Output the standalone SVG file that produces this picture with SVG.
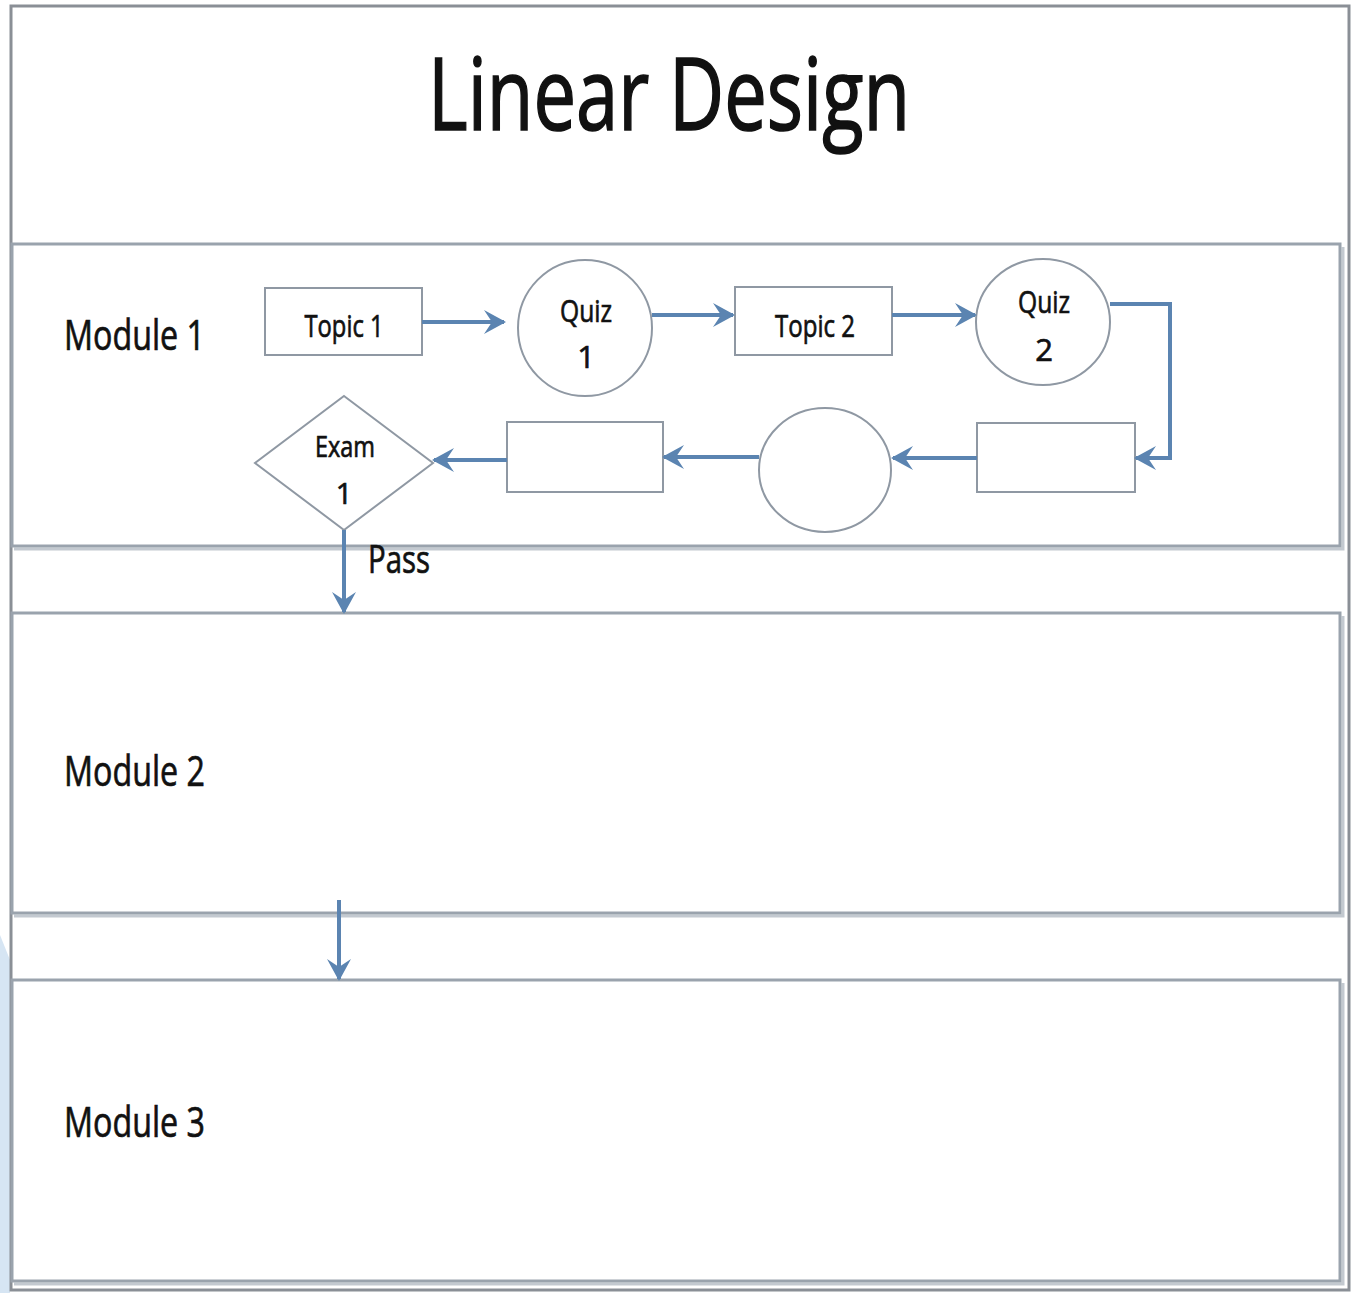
<svg xmlns="http://www.w3.org/2000/svg" width="1357" height="1293" viewBox="0 0 1357 1293">
<defs>
<marker id="ah" viewBox="0 0 12 12" refX="10" refY="6" markerWidth="6" markerHeight="6" markerUnits="strokeWidth" orient="auto">
<path d="M0,0 L11,6 L0,12 L4,6 z" fill="#5b84b1"/>
</marker>
<style>
.lane{fill:#ffffff;stroke:#9aa3ad;stroke-width:3}
.shadow{fill:none;stroke:#c3c9d0;stroke-width:3}
.node{fill:#ffffff;stroke:#8f98a3;stroke-width:2}
.conn{fill:none;stroke:#5b84b1;stroke-width:4;marker-end:url(#ah)}
.t{font-family:"Open Sans","Liberation Sans",Arial,sans-serif;fill:#111111;stroke:#111111;stroke-width:0.7}
.title{stroke-width:1.6}
</style>
</defs>
<rect width="1357" height="1293" fill="#ffffff"/>
<polygon points="0,935 10,960 10,1293 0,1293" fill="#d6e5f3"/>
<rect x="11" y="6" width="1338" height="1284" fill="#ffffff" stroke="#8a8f96" stroke-width="3"/>
<text class="t title" x="669" y="130" font-size="100" text-anchor="middle" textLength="482" lengthAdjust="spacingAndGlyphs">Linear Design</text>
<g id="lane1">
<polyline class="shadow" points="14,549 1343,549 1343,247"/>
<rect class="lane" x="12" y="244" width="1328" height="302"/>
<text class="t" x="64" y="350" font-size="42" textLength="141" lengthAdjust="spacingAndGlyphs">Module 1</text>
</g>
<g id="lane2">
<polyline class="shadow" points="14,916 1343,916 1343,616"/>
<rect class="lane" x="12" y="613" width="1328" height="300"/>
<text class="t" x="64" y="786" font-size="42" textLength="141" lengthAdjust="spacingAndGlyphs">Module 2</text>
</g>
<g id="lane3">
<polyline class="shadow" points="14,1284 1343,1284 1343,983"/>
<rect class="lane" x="12" y="980" width="1328" height="301"/>
<text class="t" x="64" y="1137" font-size="42" textLength="141" lengthAdjust="spacingAndGlyphs">Module 3</text>
</g>
<g id="topic1">
<rect class="node" x="265" y="288" width="157" height="67"/>
<text class="t" x="344" y="337" font-size="31" text-anchor="middle" textLength="79" lengthAdjust="spacingAndGlyphs">Topic 1</text>
</g>
<g id="quiz1">
<ellipse class="node" cx="585" cy="328" rx="67" ry="68"/>
<text class="t" x="586" y="322" font-size="31" text-anchor="middle" textLength="52" lengthAdjust="spacingAndGlyphs">Quiz</text>
<text class="t" x="586" y="368" font-size="31" text-anchor="middle">1</text>
</g>
<g id="topic2">
<rect class="node" x="735" y="287" width="157" height="68"/>
<text class="t" x="815" y="337" font-size="31" text-anchor="middle" textLength="80" lengthAdjust="spacingAndGlyphs">Topic 2</text>
</g>
<g id="quiz2">
<ellipse class="node" cx="1043" cy="322" rx="67" ry="63"/>
<text class="t" x="1044" y="313" font-size="31" text-anchor="middle" textLength="52" lengthAdjust="spacingAndGlyphs">Quiz</text>
<text class="t" x="1044" y="361" font-size="31" text-anchor="middle">2</text>
</g>
<g id="box3">
<rect class="node" x="977" y="423" width="158" height="69"/>
</g>
<g id="circle3">
<ellipse class="node" cx="825" cy="470" rx="66" ry="62"/>
</g>
<g id="box4">
<rect class="node" x="507" y="422" width="156" height="70"/>
</g>
<g id="exam1">
<polygon class="node" points="344,396 433,463 344,530 255,463"/>
<text class="t" x="345" y="457" font-size="29" text-anchor="middle" textLength="60" lengthAdjust="spacingAndGlyphs">Exam</text>
<text class="t" x="344" y="504" font-size="29" text-anchor="middle">1</text>
</g>
<g id="connectors">
<line class="conn" x1="422" y1="322" x2="504" y2="322"/>
<line class="conn" x1="652" y1="315" x2="733" y2="315"/>
<line class="conn" x1="892" y1="315" x2="975" y2="315"/>
<polyline class="conn" points="1110,304 1170,304 1170,458 1136,458"/>
<line class="conn" x1="977" y1="458" x2="893" y2="458"/>
<line class="conn" x1="759" y1="457" x2="664" y2="457"/>
<line class="conn" x1="507" y1="460" x2="434" y2="460"/>
<line class="conn" x1="344" y1="530" x2="344" y2="612"/>
<line class="conn" x1="339" y1="900" x2="339" y2="979"/>
</g>
<text class="t" x="368" y="573" font-size="38" textLength="62" lengthAdjust="spacingAndGlyphs">Pass</text>
</svg>
